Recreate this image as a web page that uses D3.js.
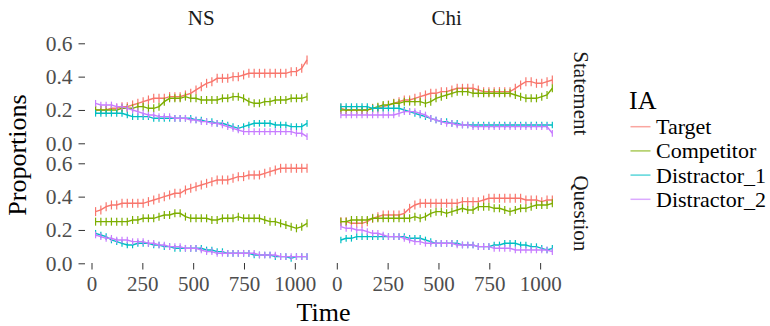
<!DOCTYPE html>
<html>
<head>
<meta charset="utf-8">
<script src="https://cdn.jsdelivr.net/npm/d3@7"></script>
<style>
  body { margin: 0; background: #fff; }
  svg text { font-family: "Liberation Serif", "Times New Roman", serif !important; }
</style>
</head>
<body>
<svg id="chart" width="770" height="326"></svg>
<script>
(function() {
  var svg, ias, colors, times, groups, conds, NS_Statement, Chi_Statement, NS_Question, Chi_Question,
    panelData, errHalf, xTicks, yTicks, colLeft, rowTop, panelW, xRange, serif;

  ias = ['Target', 'Competitor', 'Distractor_1', 'Distractor_2'];
  colors = ['#F8766D', '#7CAE00', '#00BFC4', '#C77CFF'];
  groups = ['NS', 'Chi'];
  conds = ['Statement', 'Question'];
  xTicks = [0, 250, 500, 750, 1000];
  yTicks = [0, 0.2, 0.4, 0.6];
  // half height of the error bars, per IA
  errHalf = [0.027, 0.024, 0.02, 0.02];
  serif = '"Liberation Serif", "Times New Roman", serif';

  times = [20, 46, 72, 98, 124, 150, 176, 202, 228, 254, 280, 306, 332, 358, 384, 410, 436, 462, 488, 514,
    540, 566, 592, 618, 644, 670, 696, 722, 748, 774, 800, 826, 852, 878, 904, 930, 956, 982, 1008, 1034, 1060];

  // order: Target, Competitor, Distractor_1, Distractor_2
  NS_Statement = [
    [0.20, 0.20, 0.20, 0.21, 0.21, 0.22, 0.22, 0.23, 0.24, 0.25, 0.26, 0.27, 0.27, 0.27, 0.28, 0.28, 0.28, 0.29, 0.30, 0.32,
     0.34, 0.36, 0.37, 0.39, 0.39, 0.39, 0.40, 0.40, 0.41, 0.42, 0.42, 0.42, 0.42, 0.42, 0.42, 0.42, 0.42, 0.43, 0.43, 0.45, 0.50],
    [0.20, 0.20, 0.20, 0.20, 0.20, 0.21, 0.21, 0.21, 0.22, 0.22, 0.21, 0.21, 0.22, 0.25, 0.27, 0.27, 0.27, 0.28, 0.27, 0.27,
     0.26, 0.26, 0.26, 0.26, 0.27, 0.27, 0.28, 0.28, 0.27, 0.25, 0.24, 0.24, 0.25, 0.25, 0.26, 0.26, 0.26, 0.27, 0.27, 0.27, 0.28],
    [0.18, 0.18, 0.18, 0.18, 0.18, 0.18, 0.17, 0.16, 0.16, 0.16, 0.16, 0.15, 0.15, 0.15, 0.15, 0.15, 0.15, 0.15, 0.15, 0.14,
     0.14, 0.13, 0.13, 0.12, 0.12, 0.11, 0.10, 0.09, 0.10, 0.11, 0.12, 0.12, 0.12, 0.12, 0.11, 0.11, 0.11, 0.10, 0.10, 0.10, 0.12],
    [0.24, 0.23, 0.23, 0.23, 0.22, 0.22, 0.21, 0.20, 0.19, 0.18, 0.17, 0.17, 0.16, 0.16, 0.16, 0.15, 0.15, 0.15, 0.14, 0.14,
     0.13, 0.13, 0.12, 0.12, 0.11, 0.10, 0.09, 0.08, 0.07, 0.07, 0.07, 0.07, 0.07, 0.07, 0.07, 0.07, 0.07, 0.07, 0.06, 0.06, 0.04]
  ];

  Chi_Statement = [
    [0.21, 0.20, 0.20, 0.20, 0.20, 0.20, 0.21, 0.21, 0.22, 0.23, 0.24, 0.25, 0.26, 0.26, 0.27, 0.28, 0.29, 0.30, 0.30, 0.31,
     0.31, 0.32, 0.33, 0.33, 0.33, 0.33, 0.32, 0.31, 0.31, 0.31, 0.31, 0.31, 0.31, 0.33, 0.35, 0.37, 0.37, 0.36, 0.36, 0.37, 0.38],
    [0.20, 0.20, 0.20, 0.20, 0.20, 0.20, 0.21, 0.22, 0.23, 0.23, 0.24, 0.24, 0.25, 0.25, 0.25, 0.25, 0.24, 0.25, 0.27, 0.28,
     0.29, 0.30, 0.31, 0.31, 0.31, 0.30, 0.30, 0.30, 0.30, 0.30, 0.30, 0.30, 0.30, 0.29, 0.28, 0.27, 0.27, 0.27, 0.28, 0.29, 0.33],
    [0.22, 0.22, 0.22, 0.22, 0.22, 0.22, 0.21, 0.21, 0.21, 0.21, 0.21, 0.21, 0.20, 0.19, 0.18, 0.17, 0.16, 0.15, 0.14, 0.13,
     0.13, 0.12, 0.12, 0.11, 0.11, 0.11, 0.11, 0.11, 0.11, 0.11, 0.11, 0.11, 0.11, 0.11, 0.11, 0.11, 0.11, 0.11, 0.11, 0.11, 0.11],
    [0.17, 0.17, 0.17, 0.17, 0.17, 0.17, 0.17, 0.17, 0.17, 0.17, 0.17, 0.18, 0.19, 0.19, 0.19, 0.18, 0.17, 0.15, 0.14, 0.13,
     0.12, 0.12, 0.11, 0.11, 0.11, 0.10, 0.10, 0.10, 0.10, 0.10, 0.10, 0.10, 0.10, 0.10, 0.10, 0.10, 0.10, 0.10, 0.10, 0.10, 0.06]
  ];

  NS_Question = [
    [0.31, 0.32, 0.34, 0.35, 0.35, 0.36, 0.36, 0.36, 0.36, 0.36, 0.37, 0.38, 0.39, 0.40, 0.41, 0.42, 0.42, 0.44, 0.45, 0.46,
     0.47, 0.48, 0.49, 0.50, 0.50, 0.50, 0.51, 0.52, 0.52, 0.53, 0.53, 0.53, 0.54, 0.55, 0.56, 0.57, 0.57, 0.57, 0.57, 0.57, 0.57],
    [0.25, 0.25, 0.25, 0.25, 0.25, 0.25, 0.25, 0.26, 0.26, 0.27, 0.27, 0.27, 0.28, 0.29, 0.29, 0.30, 0.30, 0.28, 0.27, 0.27,
     0.27, 0.27, 0.26, 0.26, 0.27, 0.27, 0.27, 0.28, 0.27, 0.27, 0.27, 0.27, 0.26, 0.25, 0.25, 0.24, 0.23, 0.22, 0.21, 0.22, 0.24],
    [0.18, 0.17, 0.16, 0.14, 0.13, 0.12, 0.11, 0.11, 0.12, 0.12, 0.12, 0.11, 0.11, 0.10, 0.10, 0.09, 0.09, 0.09, 0.09, 0.09,
     0.09, 0.08, 0.08, 0.07, 0.07, 0.06, 0.06, 0.06, 0.06, 0.06, 0.05, 0.05, 0.05, 0.05, 0.04, 0.04, 0.04, 0.03, 0.04, 0.04, 0.04],
    [0.17, 0.16, 0.15, 0.15, 0.14, 0.14, 0.14, 0.13, 0.13, 0.13, 0.12, 0.12, 0.11, 0.11, 0.10, 0.10, 0.10, 0.09, 0.09, 0.09,
     0.08, 0.07, 0.07, 0.06, 0.06, 0.06, 0.06, 0.06, 0.06, 0.06, 0.06, 0.05, 0.05, 0.05, 0.05, 0.04, 0.04, 0.04, 0.04, 0.04, 0.04]
  ];

  Chi_Question = [
    [0.25, 0.25, 0.24, 0.24, 0.24, 0.25, 0.27, 0.28, 0.29, 0.29, 0.29, 0.29, 0.30, 0.33, 0.35, 0.36, 0.36, 0.36, 0.36, 0.36,
     0.36, 0.36, 0.36, 0.37, 0.37, 0.37, 0.37, 0.38, 0.39, 0.39, 0.39, 0.39, 0.39, 0.39, 0.39, 0.38, 0.38, 0.38, 0.37, 0.38, 0.38],
    [0.25, 0.25, 0.26, 0.26, 0.26, 0.26, 0.27, 0.27, 0.27, 0.27, 0.27, 0.27, 0.27, 0.27, 0.28, 0.27, 0.28, 0.30, 0.31, 0.31,
     0.30, 0.31, 0.32, 0.33, 0.32, 0.32, 0.34, 0.34, 0.34, 0.33, 0.33, 0.32, 0.31, 0.32, 0.33, 0.33, 0.34, 0.35, 0.35, 0.35, 0.36],
    [0.14, 0.15, 0.15, 0.16, 0.16, 0.16, 0.16, 0.16, 0.16, 0.16, 0.16, 0.16, 0.16, 0.15, 0.15, 0.15, 0.14, 0.13, 0.12, 0.12,
     0.12, 0.12, 0.12, 0.11, 0.11, 0.11, 0.10, 0.10, 0.10, 0.11, 0.11, 0.12, 0.12, 0.12, 0.11, 0.11, 0.10, 0.10, 0.09, 0.08, 0.09],
    [0.22, 0.21, 0.21, 0.20, 0.20, 0.19, 0.18, 0.18, 0.17, 0.16, 0.16, 0.16, 0.15, 0.14, 0.13, 0.13, 0.12, 0.12, 0.12, 0.12,
     0.12, 0.12, 0.11, 0.11, 0.11, 0.11, 0.10, 0.10, 0.10, 0.09, 0.09, 0.09, 0.09, 0.08, 0.08, 0.08, 0.08, 0.08, 0.08, 0.08, 0.07]
  ];

  panelData = {
    'NS|Statement': NS_Statement,
    'Chi|Statement': Chi_Statement,
    'NS|Question': NS_Question,
    'Chi|Question': Chi_Question
  };

  // layout
  colLeft = [85, 330.3];
  panelW = 232.6;
  rowTop = [143.3, 263.3]; // pixel of y = 0 in each row
  xRange = [-32, 1112];

  svg = d3.select('#chart');

  groups.forEach(function(g, ci) {
    var x = d3.scaleLinear().domain(xRange).range([colLeft[ci], colLeft[ci] + panelW]);

    conds.forEach(function(c, ri) {
      var y, series, layer;
      y = d3.scaleLinear().domain([0, 0.6]).range([rowTop[ri], rowTop[ri] - 100]);
      series = panelData[g + '|' + c];
      layer = svg.append('g');

      series.forEach(function(vals, si) {
        var pts = times.map(function(t, i) { return { t: t, v: vals[i] }; });
        layer.append('path')
          .datum(pts)
          .attr('fill', 'none')
          .attr('stroke', colors[si])
          .attr('stroke-width', 1.4)
          .attr('d', d3.line().x(function(d) { return x(d.t); }).y(function(d) { return y(d.v); }));
        layer.selectAll(null).data(pts).enter().append('line')
          .attr('x1', function(d) { return x(d.t); })
          .attr('x2', function(d) { return x(d.t); })
          .attr('y1', function(d) { return y(d.v - errHalf[si]); })
          .attr('y2', function(d) { return y(d.v + errHalf[si]); })
          .attr('stroke', colors[si])
          .attr('stroke-width', 1.2);
      });

      // y axis on left column only
      if (ci === 0) {
        var ya = svg.append('g')
          .attr('transform', 'translate(' + colLeft[0] + ',0)')
          .call(d3.axisLeft(y).tickValues(yTicks).tickFormat(d3.format('.1f')).tickSize(6.5).tickPadding(6));
        ya.attr('font-family', serif);
        ya.select('.domain').remove();
        ya.selectAll('line').attr('stroke', '#333333');
        ya.selectAll('text').attr('fill', '#4D4D4D').style('font-size', '21.5px').style('font-family', serif);
      }

      // right strip labels
      if (ci === 1) {
        svg.append('text')
          .attr('transform', 'translate(574,' + (rowTop[ri] - 50) + ') rotate(90)')
          .attr('text-anchor', 'middle')
          .attr('fill', '#1A1A1A')
          .style('font-family', serif)
          .style('font-size', '21px')
          .text(c);
      }
    });

    // x axis at bottom row
    var xa = svg.append('g')
      .attr('transform', 'translate(0,' + (rowTop[1] - 0.3) + ')')
      .call(d3.axisBottom(x).tickValues(xTicks).tickFormat(d3.format('d')).tickSize(6.5).tickPadding(6.5));
    xa.attr('font-family', serif);
    xa.select('.domain').remove();
    xa.selectAll('line').attr('stroke', '#333333');
    xa.selectAll('text').attr('fill', '#4D4D4D').style('font-size', '21px').style('font-family', serif);

    // top strip
    svg.append('text')
      .attr('x', colLeft[ci] + panelW / 2)
      .attr('y', 25)
      .attr('text-anchor', 'middle')
      .attr('fill', '#1A1A1A')
      .style('font-family', serif)
      .style('font-size', '21px')
      .text(g);
  });

  // axis titles
  svg.append('text')
    .attr('x', 323.5)
    .attr('y', 321)
    .attr('text-anchor', 'middle')
    .style('font-family', serif)
    .style('font-size', '26px')
    .text('Time');

  svg.append('text')
    .attr('transform', 'translate(26,155) rotate(-90)')
    .attr('text-anchor', 'middle')
    .style('font-family', serif)
    .style('font-size', '26px')
    .text('Proportions');

  // legend
  var legend = svg.append('g').attr('transform', 'translate(629,0)');
  legend.append('text')
    .attr('x', 0)
    .attr('y', 109)
    .style('font-family', serif)
    .style('font-size', '26px')
    .text('IA');

  var item = legend.selectAll('.item').data(ias).enter().append('g')
    .attr('class', 'item')
    .attr('transform', function(d, i) { return 'translate(0,' + (126.7 + i * 24.2) + ')'; });
  item.append('line')
    .attr('x1', 1.5).attr('x2', 21.5)
    .attr('y1', 0).attr('y2', 0)
    .attr('stroke', function(d, i) { return colors[i]; })
    .attr('stroke-opacity', 0.65)
    .attr('stroke-width', 1.5);
  item.append('text')
    .attr('x', 27)
    .attr('y', 7.5)
    .style('font-family', serif)
    .style('font-size', '22px')
    .text(function(d) { return d; });
}).call(this);
</script>
</body>
</html>
